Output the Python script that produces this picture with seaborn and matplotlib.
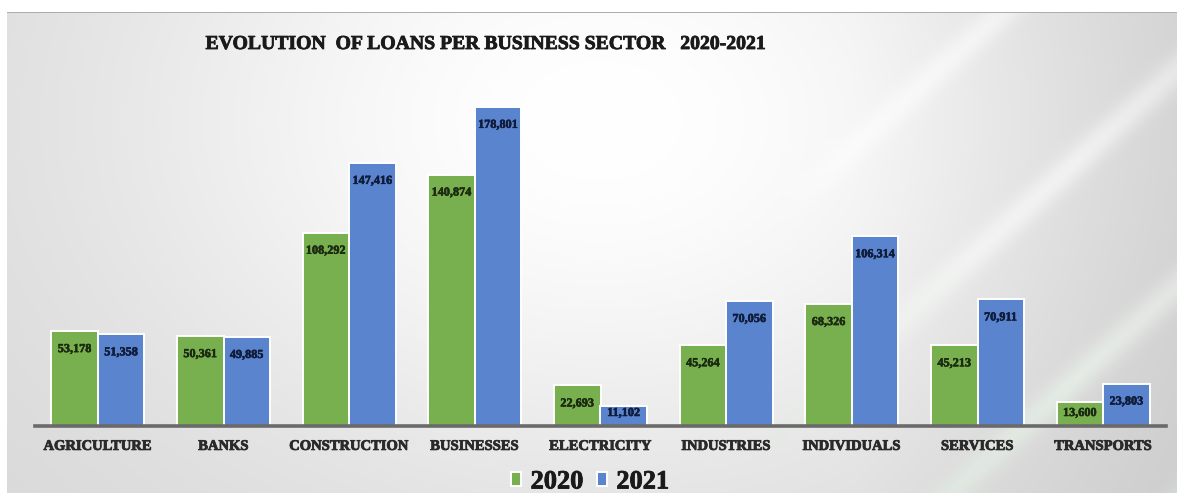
import numpy as np
import pandas as pd
import matplotlib
matplotlib.use("Agg")
import matplotlib.pyplot as plt
import matplotlib.patheffects as pe
import seaborn as sns

# Loan volumes per business sector
sectors = ["AGRICULTURE", "BANKS", "CONSTRUCTION", "BUSINESSES", "ELECTRICITY",
           "INDUSTRIES", "INDIVIDUALS", "SERVICES", "TRANSPORTS"]
loans_2020 = [53178, 50361, 108292, 140874, 22693, 45264, 68326, 45213, 13600]
loans_2021 = [51358, 49885, 147416, 178801, 11102, 70056, 106314, 70911, 23803]
years = ["2020", "2021"]

df = pd.DataFrame({
    "sector": sectors * 2,
    "year": [years[0]] * len(sectors) + [years[1]] * len(sectors),
    "loans": loans_2020 + loans_2021,
})

GREEN = "#78b04f"
BLUE = "#5b84cf"
SERIF = "Liberation Serif"


def heavy(color, w=0.6):
    return [pe.withStroke(linewidth=w, foreground=color)]


sns.set_theme(style="white")
plt.rcParams["font.family"] = [SERIF, "DejaVu Serif"]

W, H = 1177, 493
fig = plt.figure(figsize=(W / 100, H / 100), dpi=100)

# soft grey/white backdrop with diagonal light streaks
yy, xx = np.mgrid[0:H, 0:W].astype(float)
bg = 0.84 + 0.16 * np.exp(-((xx - 600) / 520) ** 2 - ((yy - 120) / 380) ** 2)
bg -= 0.05 * np.clip((xx - 850) / 330, 0, 1)
diag = (xx + 1.1 * yy) / 38.0
streak = np.clip(np.sin(diag), 0, 1) ** 6
mask = np.clip((xx - 780) / 300, 0, 1)
bg = bg + 0.07 * streak * mask
bg = np.clip(bg, 0, 1)
rgb = np.dstack([bg, bg, bg])
green_tint = np.clip((xx - 700) / 300, 0, 1) * np.clip((yy - 220) / 200, 0, 1) * streak
rgb[..., 0] -= 0.03 * green_tint
rgb[..., 2] -= 0.03 * green_tint
rgb[:12, :, :] = 1.0
rgb[:, :7, :] = 1.0
rgb[12, 7:, :] = 0.68
rgb = np.clip(rgb, 0, 1)
bg_ax = fig.add_axes([0, 0, 1, 1], zorder=-1)
bg_ax.imshow(rgb, extent=(0, W, H, 0), aspect="auto", interpolation="bilinear")
bg_ax.axis("off")

left, right = 35 / W, 1166 / W
bottom, top = (H - 426) / H, (H - 69) / H
ax = fig.add_axes([left, bottom, right - left, top - bottom])
ax.set_facecolor("none")

sns.barplot(data=df, x="sector", y="loans", hue="year", order=sectors,
            hue_order=years, palette=[GREEN, BLUE], width=0.74,
            edgecolor="white", linewidth=1.4, saturation=1, ax=ax)

ax.set_ylim(0, 200000)
ax.set_xlim(-0.5, len(sectors) - 0.5)
ax.set_xlabel("")
ax.set_ylabel("")
ax.set_yticks([])
for s in ["top", "right", "left"]:
    ax.spines[s].set_visible(False)
ax.spines["bottom"].set_color("#6a6a6a")
ax.spines["bottom"].set_linewidth(2.6)
ax.tick_params(axis="x", length=0, pad=10)
for lab in ax.get_xticklabels():
    lab.set_fontfamily(SERIF)
    lab.set_fontweight("bold")
    lab.set_fontsize(10.5)
    lab.set_color("#2a2a2a")
    lab.set_path_effects(heavy("#2a2a2a"))

# value labels just inside the top of each bar
fig.canvas.draw()
px_per_unit = ax.transData.transform((0, 1000))[1] - ax.transData.transform((0, 0))[1]
px_per_unit /= 1000.0
label_colors = ["#1b2a10", "#0f1c3a"]
for container, values, col in zip(ax.containers, [loans_2020, loans_2021], label_colors):
    for bar, v in zip(container, values):
        h_px = v * px_per_unit
        off = min(18.0, max(h_px - 13.0, 6.0))
        ax.annotate(f"{v:,}", (bar.get_x() + bar.get_width() / 2, v),
                    xytext=(0, -off), textcoords="offset pixels",
                    ha="center", va="center", fontsize=8.8, fontweight="bold",
                    fontfamily=SERIF, color=col, path_effects=heavy(col, 0.4))

leg = ax.get_legend()
handles = leg.legend_handles
leg.remove()
leg = fig.legend(handles, years, loc="center", bbox_to_anchor=(590 / W, 1 - 482 / H),
                 ncol=2, frameon=False, handlelength=0.4, handleheight=0.4,
                 handletextpad=0.35, columnspacing=0.5, borderpad=0.05,
                 prop={"family": SERIF, "weight": "bold", "size": 19})
for t in leg.get_texts():
    t.set_color("#1a1a1a")
    t.set_path_effects(heavy("#1a1a1a"))

fig.text(487 / W, 1 - 44 / H, "EVOLUTION  OF LOANS PER BUSINESS SECTOR   2020-2021",
         ha="center", va="center", fontsize=14.2, fontweight="bold",
         fontfamily=SERIF, color="#1a1a1a", path_effects=heavy("#1a1a1a"))

fig.savefig("out.png", dpi=100)
